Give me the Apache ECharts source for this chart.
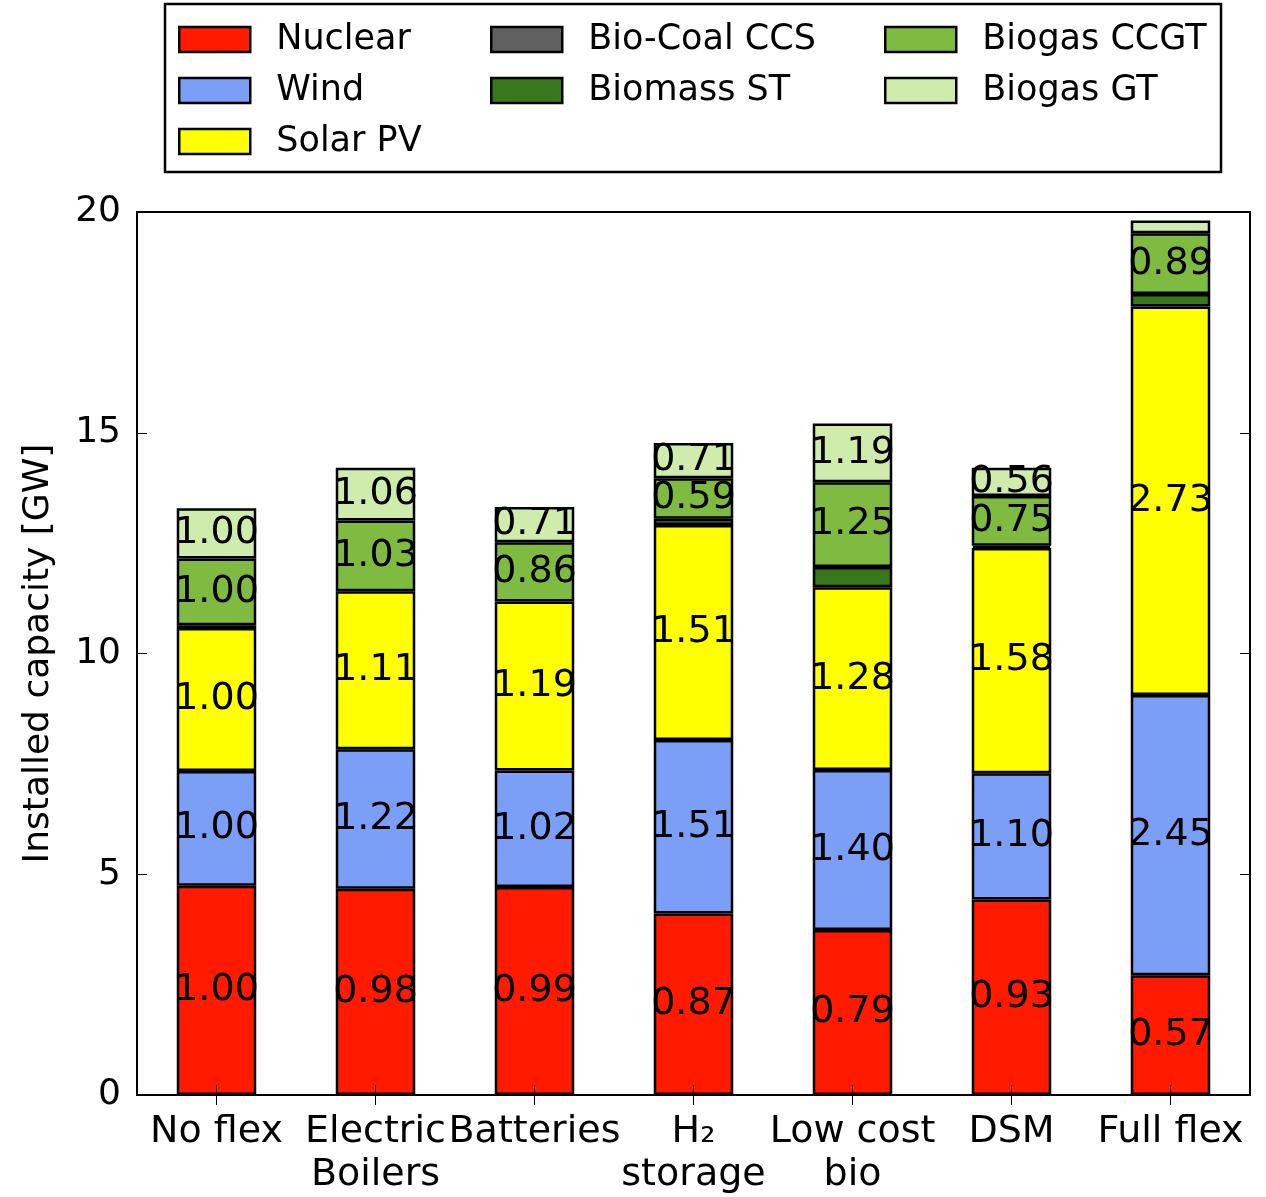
<!DOCTYPE html>
<html>
<head>
<meta charset="utf-8">
<script src="https://cdn.jsdelivr.net/npm/echarts@6/dist/echarts.min.js"></script>
<style>
html,body{margin:0;padding:0;background:#fff;}
#chart{width:1266px;height:1197px;}
</style>
</head>
<body>
<div id="chart"></div>
<script>
var categories = ['No flex', 'Electric\nBoilers', 'Batteries', 'H\u2082\nstorage', 'Low cost\nbio', 'DSM', 'Full flex'];
var seriesNames = ['Nuclear', 'Wind', 'Solar PV', 'Bio-Coal CCS', 'Biomass ST', 'Biogas CCGT', 'Biogas GT'];
var nuclear = [4.74, 4.67, 4.71, 4.11, 3.74, 4.43, 2.71];
var wind    = [2.60, 3.16, 2.64, 3.93, 3.62, 2.86, 6.35];
var solar   = [3.24, 3.58, 3.83, 4.87, 4.14, 5.10, 8.80];
var bioCoal = [0, 0, 0, 0.14, 0, 0, 0];
var biomass = [0.06, 0, 0, 0, 0.46, 0.05, 0.28];
var ccgt    = [1.51, 1.60, 1.34, 0.92, 1.92, 1.13, 1.38];
var gt      = [1.14, 1.20, 0.80, 0.80, 1.33, 0.64, 0.29];

var nuclearLabels = ['1.00', '0.98', '0.99', '0.87', '0.79', '0.93', '0.57'];
var windLabels    = ['1.00', '1.22', '1.02', '1.51', '1.40', '1.10', '2.45'];
var solarLabels   = ['1.00', '1.11', '1.19', '1.51', '1.28', '1.58', '2.73'];
var bioCoalLabels = ['', '', '', '', '', '', ''];
var biomassLabels = ['', '', '', '', '', '', ''];
var ccgtLabels    = ['1.00', '1.03', '0.86', '0.59', '1.25', '0.75', '0.89'];
var gtLabels      = ['1.00', '1.06', '0.71', '0.71', '1.19', '0.56', ''];

var yTicks = { min: 0, max: 20, interval: 5 };

var colors = ['#ff1a00', '#7b9ff6', '#ffff00', '#606060', '#38771c', '#80bb41', '#d0ecac'];
var values = [nuclear, wind, solar, bioCoal, biomass, ccgt, gt];
var labels = [nuclearLabels, windLabels, solarLabels, bioCoalLabels, biomassLabels, ccgtLabels, gtLabels];

var FONT = 'DejaVu Sans';
var chart = echarts.init(document.getElementById('chart'), null, {renderer: 'canvas'});

var series = seriesNames.map(function (name, i) {
  return {
    name: name,
    type: 'bar',
    stack: 'total',
    barWidth: '50%',
    data: values[i].map(function (v) { return v === 0 ? '-' : v; }),
    itemStyle: { color: colors[i], borderColor: '#000', borderWidth: 2.5 },
    label: {
      show: true,
      position: 'inside',
      fontFamily: FONT,
      fontSize: 38,
      color: '#000',
      formatter: function (p) { return labels[i][p.dataIndex]; }
    },
    emphasis: { disabled: true }
  };
});

function legendCol(data, left) {
  return {
    orient: 'vertical',
    left: left,
    top: 17,
    icon: 'rect',
    itemWidth: 71,
    itemHeight: 25,
    itemGap: 16,
    data: data,
    selectedMode: false,
    itemStyle: { borderColor: '#000', borderWidth: 2.5 },
    textStyle: { fontFamily: FONT, fontSize: 35, color: '#000', padding: [0, 0, 0, 21] }
  };
}

var option = {
  animation: false,
  backgroundColor: '#fff',
  legend: [
    legendCol(['Nuclear', 'Wind', 'Solar PV'], 173),
    legendCol(['Bio-Coal CCS', 'Biomass ST'], 485),
    legendCol(['Biogas CCGT', 'Biogas GT'], 879)
  ],
  graphic: [{
    type: 'rect',
    shape: { x: 165, y: 4, width: 1056, height: 168 },
    style: { fill: 'none', stroke: '#000', lineWidth: 2.5 },
    z: 100
  }],
  grid: { left: 137, right: 16, top: 212, bottom: 93, show: true, borderColor: '#000', borderWidth: 2, backgroundColor: 'transparent', z: 10 },
  xAxis: [{
    type: 'category',
    data: categories,
    z: 10,
    axisLine: { show: true, lineStyle: { color: '#000', width: 2 } },
    axisTick: { show: true, inside: true, alignWithLabel: true, length: 10, lineStyle: { color: '#000', width: 1 } },
    axisLabel: { fontFamily: FONT, fontSize: 38, color: '#000', margin: 16, lineHeight: 43, interval: 0 }
  }, {
    type: 'category',
    data: categories,
    position: 'top',
    z: 10,
    axisLine: { show: true, lineStyle: { color: '#000', width: 2 } },
    axisTick: { show: true, inside: true, alignWithLabel: true, length: 10, lineStyle: { color: '#000', width: 1 } },
    axisLabel: { show: false }
  }],
  yAxis: [{
    type: 'value',
    min: yTicks.min, max: yTicks.max, interval: yTicks.interval,
    z: 10,
    name: 'Installed capacity [GW]',
    nameLocation: 'middle',
    nameGap: 80,
    nameTextStyle: { fontFamily: FONT, fontSize: 36, color: '#000' },
    splitLine: { show: false },
    axisLine: { show: true, lineStyle: { color: '#000', width: 2 } },
    axisTick: { show: true, inside: true, length: 10, lineStyle: { color: '#000', width: 1 } },
    axisLabel: { fontFamily: FONT, fontSize: 36, color: '#000', margin: 16 }
  }, {
    type: 'value',
    min: yTicks.min, max: yTicks.max, interval: yTicks.interval,
    position: 'right',
    z: 10,
    splitLine: { show: false },
    axisLine: { show: true, lineStyle: { color: '#000', width: 2 } },
    axisTick: { show: true, inside: true, length: 10, lineStyle: { color: '#000', width: 1 } },
    axisLabel: { show: false }
  }],
  series: series
};
chart.setOption(option);
</script>
</body>
</html>
